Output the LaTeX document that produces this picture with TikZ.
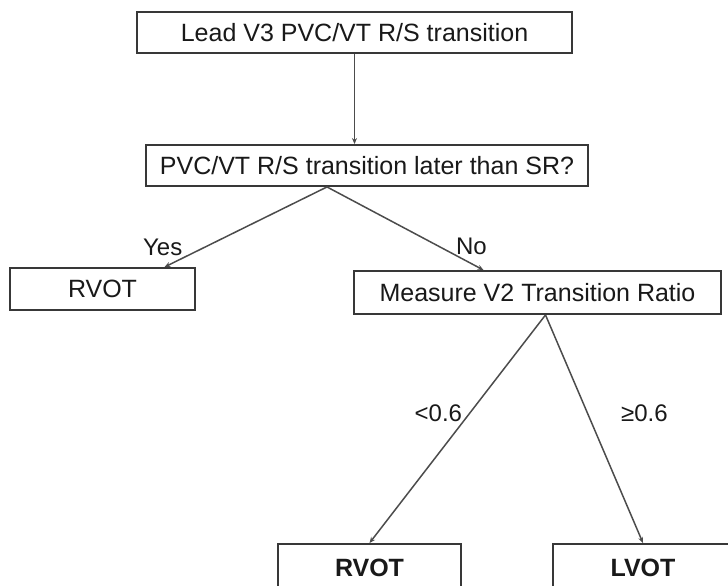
\documentclass[tikz,border=0pt]{standalone}
\usepackage{fontspec}
\setmainfont{Liberation Sans}
\usetikzlibrary{arrows.meta, positioning, calc}
\definecolor{boxgray}{rgb}{0.22,0.22,0.22}
\definecolor{linegray}{rgb}{0.30,0.30,0.30}
\definecolor{textdark}{rgb}{0.10,0.10,0.10}

\begin{document}
\begin{tikzpicture}[
    x=1pt, y=-1pt,
    stepbox/.style={
        rectangle,
        draw=boxgray, line width=1.9pt, fill=white,
        inner sep=0pt, minimum height=41pt,
        font=\fontsize{25}{30}\selectfont, text=textdark
    },
    endbox/.style={
        stepbox, minimum height=48pt,
        font=\fontsize{25}{30}\selectfont\bfseries
    },
    arrow/.style={
        -{Stealth[length=6pt, width=5pt]},
        line width=1.5pt, color=linegray
    },
    lbl/.style={font=\fontsize{24}{28}\selectfont, text=textdark, inner sep=1pt}
]
\useasboundingbox (0,0) rectangle (728,586);

%% ── Decision spine ───────────────────────────────────────────────────────────
\node[stepbox, minimum width=435pt] (lead)     at (354.5, 32.5)  {Lead V3 PVC/VT R/S transition};
\node[stepbox, minimum width=442pt] (question) at (367, 165.5)   {PVC/VT R/S transition later than SR?};

%% First branch
\node[stepbox, minimum width=185pt, minimum height=42pt] (rvotA)   at (102.5, 289) {RVOT};
\node[stepbox, minimum width=367pt, minimum height=43pt] (measure) at (537.5, 292.5) {Measure V2 Transition Ratio};

%% Final outcomes
\node[endbox, minimum width=183pt] (rvotB) at (369.5, 568) {RVOT};
\node[endbox, minimum width=180pt] (lvot)  at (643, 568)   {LVOT};

%% ── Arrows ───────────────────────────────────────────────────────────────────
\coordinate (qsplit) at ([xshift=-40pt]question.south);
\coordinate (msplit) at ([xshift=8pt]measure.south);

\draw[arrow] (lead.south) -- (lead.south |- question.north);

\draw[arrow] (qsplit) -- node[lbl, pos=0.88, anchor=south east] {Yes} ([xshift=62pt]rvotA.north);
\draw[arrow] (qsplit) -- node[lbl, pos=0.82, anchor=south west, inner sep=0pt] {No} ([xshift=-54pt]measure.north);

\draw[arrow] (msplit) -- node[lbl, pos=0.43, left=6pt]  {<0.6} (rvotB.north);
\draw[arrow] (msplit) -- node[lbl, pos=0.43, right=32pt] {≥0.6} (lvot.north);

\end{tikzpicture}
\end{document}
